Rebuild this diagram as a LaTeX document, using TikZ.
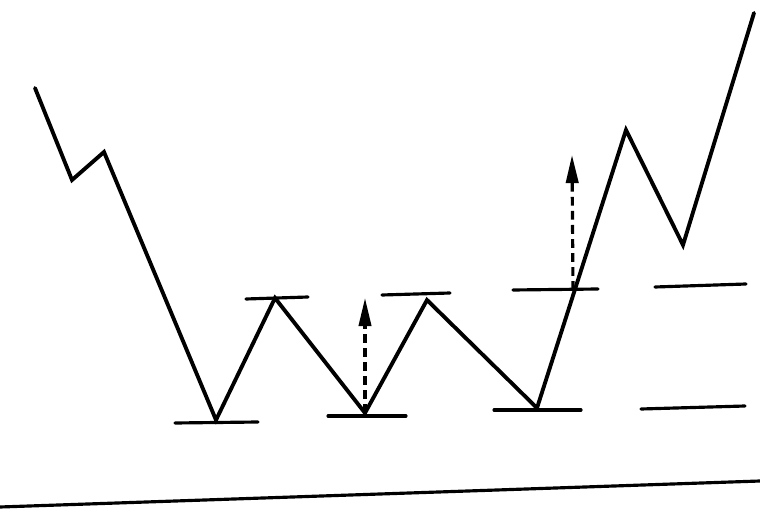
\documentclass[tikz,border=0pt]{standalone}
\usepackage{tikz}
\usetikzlibrary{arrows.meta}

\begin{document}
\begin{tikzpicture}[
    x=0.02cm, y=-0.02cm,
    price/.style={line width=2.2pt, line join=miter, line cap=round},
    level/.style={line width=1.8pt, line cap=round},
    rise/.style={-{Triangle[length=16pt, width=7pt]}, line width=1.8pt, dash pattern=on 5pt off 3pt}
]

% Frame
\useasboundingbox (0,0) rectangle (760,509);

% Price turning points
\coordinate (p0) at (35,88);
\coordinate (p1) at (72,180);
\coordinate (p2) at (104,152);
\coordinate (low1) at (216,420);
\coordinate (high1) at (275,298);
\coordinate (low2) at (365,413);
\coordinate (high2) at (427,300);
\coordinate (low3) at (537,408);
\coordinate (p8) at (626,130);
\coordinate (p9) at (683,245);
\coordinate (p10) at (754,13);

% Price line
\draw[price] (p0) -- (p1) -- (p2) -- (low1) -- (high1) -- (low2) -- (high2) -- (low3) -- (p8) -- (p9) -- (p10);

% Support levels
\draw[level] (175,423) -- (258,422);
\draw[level] (328,416) -- (406,416);
\draw[level] (494,410) -- (581,410);
\draw[level] (641,409) -- (745,406);

% Resistance levels
\draw[level] (246,299) -- (308,297);
\draw[level] (382,295) -- (450,293);
\draw[level] (513,290) -- (598,289);
\draw[level] (655,287) -- (746,284);

% Targets
\coordinate (break) at (573,290);
\coordinate (goal1) at (365,298);
\coordinate (goal2) at (572,155);
\draw[rise] (low2) -- (goal1);
\draw[rise] (break) -- (goal2);

% Base line
\draw[line width=1.8pt] (0,507) -- (760,481);

\end{tikzpicture}
\end{document}
